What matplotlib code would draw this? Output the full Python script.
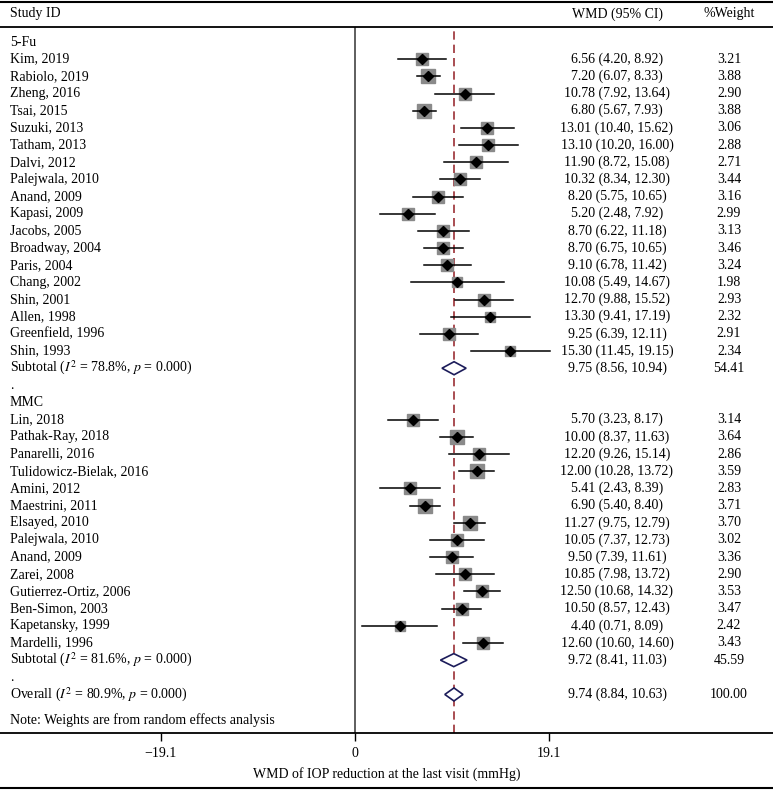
import numpy as np
import matplotlib.pyplot as plt
from matplotlib.transforms import blended_transform_factory

plt.rcParams['font.family'] = ['Liberation Serif', 'DejaVu Serif']
plt.rcParams['mathtext.fontset'] = 'stix'

# 5-Fu studies
fu_names = ['Kim, 2019', 'Rabiolo, 2019', 'Zheng, 2016', 'Tsai, 2015', 'Suzuki, 2013',
            'Tatham, 2013', 'Dalvi, 2012', 'Palejwala, 2010', 'Anand, 2009', 'Kapasi, 2009',
            'Jacobs, 2005', 'Broadway, 2004', 'Paris, 2004', 'Chang, 2002', 'Shin, 2001',
            'Allen, 1998', 'Greenfield, 1996', 'Shin, 1993']
fu_est = [6.56, 7.20, 10.78, 6.80, 13.01, 13.10, 11.90, 10.32, 8.20, 5.20,
          8.70, 8.70, 9.10, 10.08, 12.70, 13.30, 9.25, 15.30]
fu_lo = [4.20, 6.07, 7.92, 5.67, 10.40, 10.20, 8.72, 8.34, 5.75, 2.48,
         6.22, 6.75, 6.78, 5.49, 9.88, 9.41, 6.39, 11.45]
fu_hi = [8.92, 8.33, 13.64, 7.93, 15.62, 16.00, 15.08, 12.30, 10.65, 7.92,
         11.18, 10.65, 11.42, 14.67, 15.52, 17.19, 12.11, 19.15]
fu_w = [3.21, 3.88, 2.90, 3.88, 3.06, 2.88, 2.71, 3.44, 3.16, 2.99,
        3.13, 3.46, 3.24, 1.98, 2.93, 2.32, 2.91, 2.34]
fu_sub = (9.75, 8.56, 10.94, 54.41, 78.8)

# MMC studies
mmc_names = ['Lin, 2018', 'Pathak-Ray, 2018', 'Panarelli, 2016', 'Tulidowicz-Bielak, 2016',
             'Amini, 2012', 'Maestrini, 2011', 'Elsayed, 2010', 'Palejwala, 2010',
             'Anand, 2009', 'Zarei, 2008', 'Gutierrez-Ortiz, 2006', 'Ben-Simon, 2003',
             'Kapetansky, 1999', 'Mardelli, 1996']
mmc_est = [5.70, 10.00, 12.20, 12.00, 5.41, 6.90, 11.27, 10.05, 9.50, 10.85, 12.50, 10.50, 4.40, 12.60]
mmc_lo = [3.23, 8.37, 9.26, 10.28, 2.43, 5.40, 9.75, 7.37, 7.39, 7.98, 10.68, 8.57, 0.71, 10.60]
mmc_hi = [8.17, 11.63, 15.14, 13.72, 8.39, 8.40, 12.79, 12.73, 11.61, 13.72, 14.32, 12.43, 8.09, 14.60]
mmc_w = [3.14, 3.64, 2.86, 3.59, 2.83, 3.71, 3.70, 3.02, 3.36, 2.90, 3.53, 3.47, 2.42, 3.43]
mmc_sub = (9.72, 8.41, 11.03, 45.59, 81.6)

overall = (9.74, 8.84, 10.63, 100.00, 80.9)

xtick_vals = [-19.1, 0, 19.1]
xtick_labels = ['\u221219.1', '0', '19.1']

W, H = 773, 790
px = 10.16          # pixels per WMD unit
x0 = 355            # pixel of zero
row0, dy = 42, 17.17

fig = plt.figure(figsize=(W / 100, H / 100), dpi=100)
top_px, bot_px = 27, 733
ax = fig.add_axes([0, (H - bot_px) / H, 1, (bot_px - top_px) / H])
ax.set_xlim(-x0 / px, (W - x0) / px)
ax.set_ylim((bot_px - row0) / dy, (top_px - row0) / dy)
for s in ['left', 'right']:
    ax.spines[s].set_visible(False)
ax.spines['top'].set_linewidth(1.3)
ax.spines['bottom'].set_linewidth(1.3)
ax.set_yticks([])
ax.set_xticks(xtick_vals, xtick_labels, fontsize=10)
ax.tick_params(axis='x', length=6, width=1, pad=4)
ax.set_xlabel('WMD of IOP reduction at the last visit (mmHg)', fontsize=10, labelpad=5)

tr = blended_transform_factory(ax.transAxes, ax.transData)
fs = 10
xl = 10 / W
xc_wmd = 617 / W
xc_w = 729 / W

ax.axvline(0, color='#333333', lw=1.1)
ax.axvline(overall[0], color='#9b2f35', lw=1.2, ls=(0, (5, 3)))


def study_rows(names, est, lo, hi, w, start):
    for i, (n, e, l, h, wt) in enumerate(zip(names, est, lo, hi, w)):
        r = start + i
        side = 6.7 * np.sqrt(wt)
        ax.plot(e, r, marker='s', ms=side * 0.74, color='#8a8a8a', mec='#8a8a8a', zorder=2)
        ax.plot([l, h], [r, r], color='black', lw=1.1, zorder=3)
        ax.plot(e, r, marker='D', ms=5.3, color='black', zorder=4)
        ax.text(xl, r, n, transform=tr, fontsize=fs, va='center', ha='left')
        ax.text(xc_wmd, r, f'{e:.2f} ({l:.2f}, {h:.2f})', transform=tr,
                fontsize=fs, va='center', ha='center')
        ax.text(xc_w, r, f'{wt:.2f}', transform=tr, fontsize=fs, va='center', ha='center')


def pooled_row(vals, r, label):
    e, l, h, wt, i2 = vals
    ax.fill([l, e, h, e, l], [r, r - 0.38, r, r + 0.38, r], facecolor='white',
            edgecolor='#1c1c5a', lw=1.2, zorder=4)
    ax.text(xl, r, f'{label} ($I^2$ = {i2:.1f}%, $p$ = 0.000)', transform=tr,
            fontsize=fs, va='center', ha='left')
    ax.text(xc_wmd, r, f'{e:.2f} ({l:.2f}, {h:.2f})', transform=tr,
            fontsize=fs, va='center', ha='center')
    ax.text(xc_w, r, f'{wt:.2f}', transform=tr, fontsize=fs, va='center', ha='center')


ax.text(xl, 0, '5-Fu', transform=tr, fontsize=fs, va='center')
study_rows(fu_names, fu_est, fu_lo, fu_hi, fu_w, 1)
r = 1 + len(fu_names)
pooled_row(fu_sub, r, 'Subtotal')
ax.text(xl, r + 1, '.', transform=tr, fontsize=fs, va='center')
ax.text(xl, r + 2, 'MMC', transform=tr, fontsize=fs, va='center')
study_rows(mmc_names, mmc_est, mmc_lo, mmc_hi, mmc_w, r + 3)
r2 = r + 3 + len(mmc_names)
pooled_row(mmc_sub, r2, 'Subtotal')
ax.text(xl, r2 + 1, '.', transform=tr, fontsize=fs, va='center')
pooled_row(overall, r2 + 2, 'Overall')
ax.text(xl, r2 + 3.5, 'Note: Weights are from random effects analysis', transform=tr,
        fontsize=fs, va='center')

# header
hy = 1 - 14 / H
fig.text(xl, hy, 'Study ID', fontsize=fs, va='center')
fig.text(xc_wmd, hy, 'WMD (95% CI)', fontsize=fs, va='center', ha='center')
fig.text(xc_w, hy, '%Weight', fontsize=fs, va='center', ha='center')
fig.add_artist(plt.Line2D([0, 1], [1 - 2 / H] * 2, color='black', lw=1.5))
fig.add_artist(plt.Line2D([0, 1], [1 - 788 / H] * 2, color='black', lw=1.5))

fig.savefig('out.png', dpi=100)
